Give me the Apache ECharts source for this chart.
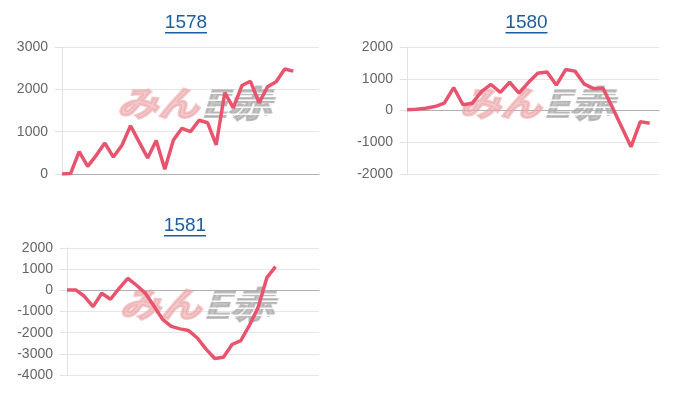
<!DOCTYPE html>
<html>
<head>
<meta charset="utf-8">
<script src="https://cdn.jsdelivr.net/npm/echarts@6/dist/echarts.min.js"></script>
<style>html,body{margin:0;padding:0;background:#fff}#c{width:700px;height:400px}</style>
</head>
<body>
<div id="c"></div>
<script>
// ---- data ----
var days1578 = [1,2,3,4,5,6,7,8,9,10,11,12,13,14,15,16,17,18,19,20,21,22,23,24,25,26,27,28,29,30,31];
var days1580 = [1,2,3,4,5,6,7,8,9,10,11,12,13,14,15,16,17,18,19,20,21,22,23,24,25,26,27,28];
var days1581 = [1,2,3,4,5,6,7,8,9,10,11,12,13,14,15,16,17,18,19,20,21,22,23,24,25,26,27,28,29,30];

var values1578 = [0, 10, 530, 180, 440, 730, 400, 680, 1140, 760, 380, 790, 110, 800, 1080, 1000, 1270, 1210, 690, 1920, 1560, 2090, 2190, 1680, 2060, 2180, 2480, 2430];
var values1580 = [20, 40, 70, 125, 230, 720, 180, 230, 600, 820, 570, 890, 550, 880, 1170, 1210, 800, 1290, 1240, 830, 690, 700, 100, -520, -1145, -350, -400];
var values1581 = [20, 20, -280, -770, -140, -420, 90, 570, 240, -130, -740, -1370, -1700, -1820, -1900, -2250, -2780, -3220, -3160, -2560, -2380, -1650, -800, 600, 1120];

var titles = ['1578', '1580', '1581'];
var yTicks1578 = [0, 3000, 1000];   // min, max, step
var yTicks1580 = [-2000, 2000, 1000];
var yTicks1581 = [-4000, 2000, 1000];

// ---- layout ----
var FONT = "'Liberation Sans', Arial, sans-serif";
var LINE = '#e8536d';
var grids = [
  {left: 62, top: 47, width: 257, height: 127},
  {left: 407, top: 47, width: 252, height: 127},
  {left: 67, top: 248, width: 252, height: 127}
];
var titlePos = [[186, 22.5], [526.5, 22.5], [185, 225.5]];
var cats = [days1578, days1580, days1581];
var vals = [values1578, values1580, values1581];
var ticks = [yTicks1578, yTicks1580, yTicks1581];

var xAxes = [], yAxes = [], series = [], graphics = [];
for (var i = 0; i < 3; i++) {
  xAxes.push({
    type: 'category', gridIndex: i, data: cats[i], boundaryGap: false,
    axisLine: {show: true, onZero: true, lineStyle: {color: '#b0b0b0', width: 1}},
    axisTick: {show: false}, axisLabel: {show: false}, splitLine: {show: false}
  });
  yAxes.push({
    type: 'value', gridIndex: i, min: ticks[i][0], max: ticks[i][1], interval: ticks[i][2],
    axisLine: {show: true, lineStyle: {color: '#e2e2e2'}},
    axisTick: {show: true, length: 7, lineStyle: {color: '#e2e2e2'}},
    axisLabel: {color: '#666', fontSize: 14, fontFamily: FONT, margin: 14,
      formatter: function (v) { return String(v); }},
    splitLine: {show: true, lineStyle: {color: '#e6e6e6', width: 1}}
  });
  series.push({
    type: 'line', xAxisIndex: i, yAxisIndex: i, data: vals[i],
    showSymbol: false, symbol: 'none', z: 5,
    lineStyle: {color: LINE, width: 3.5}, itemStyle: {color: LINE}
  });
  // title + underline
  graphics.push({
    type: 'text', x: titlePos[i][0], y: titlePos[i][1], z: 10,
    style: {text: titles[i], fill: '#1c5e9e', font: '19px ' + FONT, textAlign: 'center', textVerticalAlign: 'middle'}
  });
  graphics.push({
    type: 'rect', z: 10,
    shape: {x: titlePos[i][0] - 21, y: titlePos[i][1] + 9.5, width: 42, height: 1.6},
    style: {fill: '#1c5e9e'}
  });
  // watermark
  var g = grids[i];
  var cx = g.left + g.width / 2 + 13, cy = g.top + g.height / 2 - 7;
  var stripes = [];
  for (var k = 0; k < 4; k++) {
    stripes.push({
      type: 'rect', z: 2,
      shape: {x: -2, y: -11 + k * 7, width: 80, height: 1.4},
      style: {fill: 'rgba(255,255,255,0.9)'}
    });
  }
  graphics.push({
    type: 'group', x: cx, y: cy, scaleX: 1.2, z: 1,
    children: [
      {type: 'text', x: -4, y: 0, z: 1,
       style: {text: 'みん', fill: 'rgba(235,165,168,0.6)', stroke: 'rgba(235,165,168,0.6)', lineWidth: 2.5,
               font: 'italic bold 34px "Noto Sans CJK JP"', textAlign: 'right', textVerticalAlign: 'middle'}},
      {type: 'text', x: -2, y: 0, z: 1,
       style: {text: 'E赤', fill: 'rgba(170,170,170,0.7)', stroke: 'rgba(170,170,170,0.7)', lineWidth: 2,
               font: 'italic bold 36px "Noto Sans CJK JP"', textAlign: 'left', textVerticalAlign: 'middle'}}
    ].concat(stripes)
  });
}

var chart = echarts.init(document.getElementById('c'), null, {renderer: 'canvas'});
chart.setOption({
  animation: false,
  backgroundColor: '#fff',
  textStyle: {fontFamily: FONT},
  grid: grids,
  xAxis: xAxes,
  yAxis: yAxes,
  series: series,
  graphic: graphics
});
</script>
</body>
</html>
